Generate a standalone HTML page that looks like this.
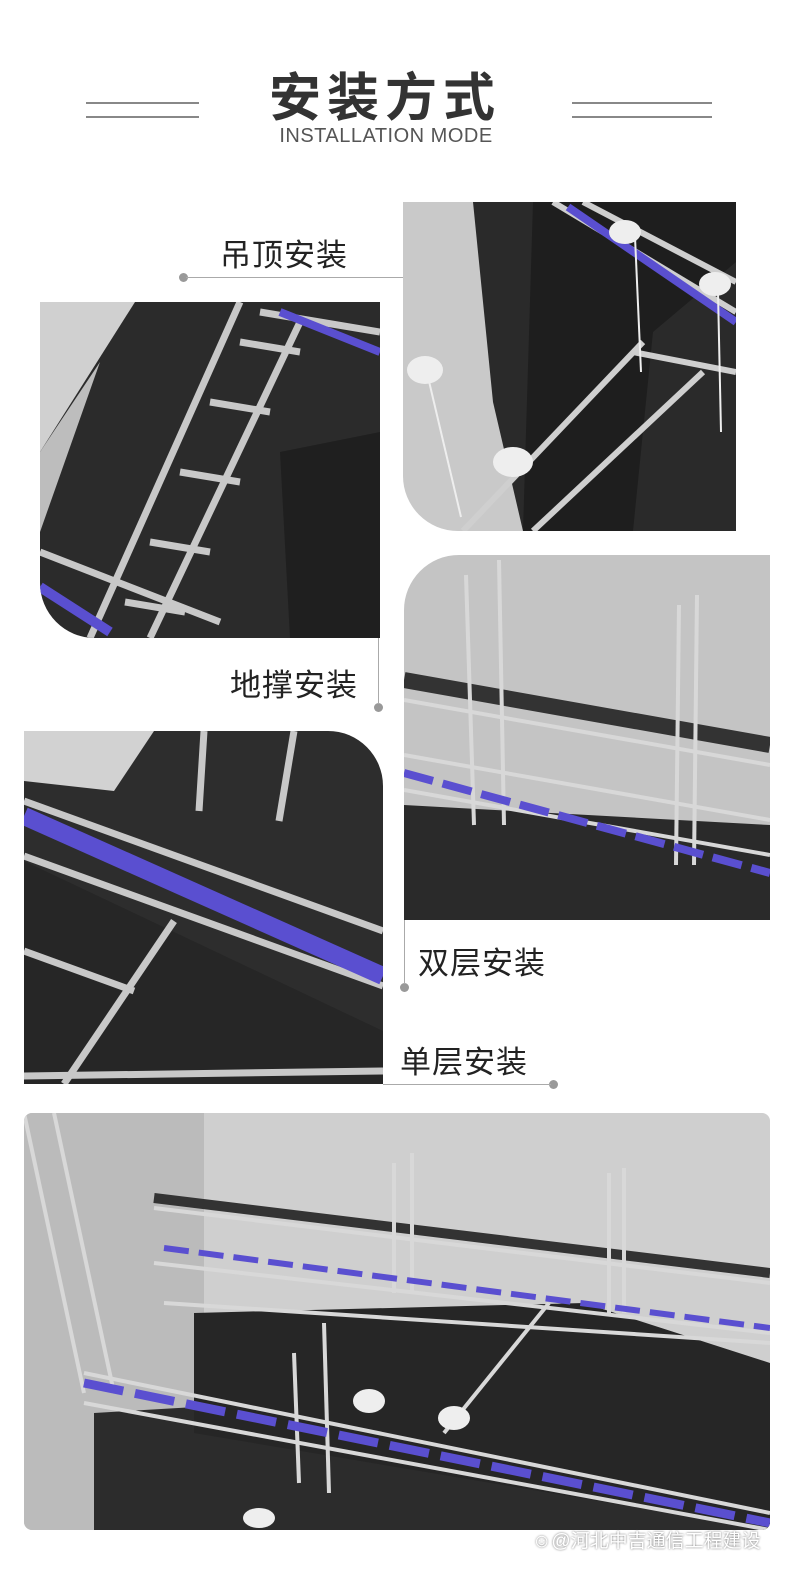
<!DOCTYPE html>
<html><head><meta charset="utf-8"><style>
body{margin:0;width:800px;height:1574px;background:#fff;position:relative;overflow:hidden;font-family:"Liberation Sans","Noto Sans CJK SC",sans-serif;}
.a{position:absolute}
.t{position:absolute;font-size:31px;color:#222;letter-spacing:1px;white-space:nowrap}
.dot{position:absolute;width:9px;height:9px;border-radius:50%;background:#999}
.ln{position:absolute;height:1px;background:#aaa}
.img{position:absolute;overflow:hidden}
svg{display:block}
</style></head><body>
<div class="a" style="left:0;width:770px;top:56px;text-align:center;font-size:52px;font-weight:bold;color:#333;letter-spacing:6px">安装方式</div>
<div class="a" style="left:0;width:772px;top:125px;text-align:center;font-size:20px;color:#555;letter-spacing:0.5px">INSTALLATION MODE</div>
<div class="a" style="left:86px;top:102px;width:113px;height:2px;background:#888"></div>
<div class="a" style="left:86px;top:116px;width:113px;height:2px;background:#888"></div>
<div class="a" style="left:572px;top:102px;width:140px;height:2px;background:#888"></div>
<div class="a" style="left:572px;top:116px;width:140px;height:2px;background:#888"></div>

<div class="t" style="left:220px;top:230px">吊顶安装</div>
<div class="dot" style="left:179px;top:273px"></div><div class="ln" style="left:186px;top:277px;width:217px"></div>
<div class="t" style="left:230px;top:660px">地撑安装</div>
<div class="dot" style="left:374px;top:703px"></div><div class="a" style="left:378px;top:638px;width:1px;height:66px;background:#aaa"></div>
<div class="t" style="left:418px;top:938px">双层安装</div>
<div class="dot" style="left:400px;top:983px"></div><div class="a" style="left:404px;top:920px;width:1px;height:64px;background:#aaa"></div>
<div class="t" style="left:400px;top:1037px">单层安装</div>
<div class="dot" style="left:549px;top:1080px"></div><div class="ln" style="left:383px;top:1084px;width:168px"></div>

<!-- image 1 -->
<div class="img" style="left:403px;top:202px;width:333px;height:329px;border-bottom-left-radius:55px;background:#c9c9c9">
<svg width="333" height="329"><polygon points="70,0 333,0 333,329 120,329 90,200" fill="#2a2a2a"/><polygon points="130,0 333,0 333,60 250,130 230,329 120,329" fill="#1e1e1e"/>
<g stroke="#cfcfcf" stroke-width="6" fill="none"><line x1="150" y1="0" x2="333" y2="110"/><line x1="180" y1="0" x2="333" y2="80"/><line x1="240" y1="140" x2="60" y2="329"/><line x1="300" y1="170" x2="130" y2="329"/><line x1="230" y1="150" x2="333" y2="170"/></g>
<line x1="165" y1="5" x2="333" y2="120" stroke="#5a4fd0" stroke-width="8"/>
<g fill="#eee"><ellipse cx="222" cy="30" rx="16" ry="12"/><ellipse cx="312" cy="82" rx="16" ry="12"/><ellipse cx="22" cy="168" rx="18" ry="14"/><ellipse cx="110" cy="260" rx="20" ry="15"/></g>
<g stroke="#eee" stroke-width="2"><line x1="232" y1="35" x2="238" y2="170"/><line x1="315" y1="90" x2="318" y2="230"/><line x1="25" y1="175" x2="58" y2="315"/></g></svg></div>

<!-- image 2 -->
<div class="img" style="left:40px;top:302px;width:340px;height:336px;border-bottom-left-radius:55px;background:#2b2b2b">
<svg width="340" height="336"><polygon points="0,0 95,0 0,150" fill="#d0d0d0"/><polygon points="0,150 60,60 0,230" fill="#bdbdbd"/><polygon points="240,150 340,130 340,336 250,336" fill="#1f1f1f"/>
<g stroke="#c8c8c8" stroke-width="7" fill="none"><line x1="200" y1="0" x2="50" y2="336"/><line x1="260" y1="20" x2="110" y2="336"/><line x1="200" y1="40" x2="260" y2="50"/><line x1="170" y1="100" x2="230" y2="110"/><line x1="140" y1="170" x2="200" y2="180"/><line x1="110" y1="240" x2="170" y2="250"/><line x1="85" y1="300" x2="145" y2="310"/><line x1="0" y1="250" x2="180" y2="320"/><line x1="220" y1="10" x2="340" y2="30"/></g>
<line x1="240" y1="10" x2="340" y2="50" stroke="#5a4fd0" stroke-width="8"/><line x1="0" y1="285" x2="70" y2="330" stroke="#5a4fd0" stroke-width="10"/></svg></div>

<!-- image 3 -->
<div class="img" style="left:24px;top:731px;width:359px;height:353px;border-top-right-radius:55px;background:#2d2d2d">
<svg width="359" height="353"><polygon points="0,0 130,0 90,60 0,50" fill="#d2d2d2"/><polygon points="0,130 359,300 359,353 0,353" fill="#262626"/>
<g stroke="#c8c8c8" stroke-width="7" fill="none"><line x1="0" y1="70" x2="359" y2="200"/><line x1="0" y1="125" x2="359" y2="255"/><line x1="180" y1="0" x2="175" y2="80"/><line x1="270" y1="0" x2="255" y2="90"/><line x1="150" y1="190" x2="40" y2="353"/><line x1="0" y1="220" x2="110" y2="260"/><line x1="0" y1="345" x2="359" y2="340"/></g>
<line x1="0" y1="85" x2="359" y2="245" stroke="#5a4fd0" stroke-width="18"/></svg></div>

<!-- image 4 -->
<div class="img" style="left:404px;top:555px;width:366px;height:365px;border-top-left-radius:55px;background:#c4c4c4">
<svg width="366" height="365"><polygon points="0,250 366,270 366,365 0,365" fill="#2a2a2a"/>
<line x1="0" y1="125" x2="366" y2="190" stroke="#333" stroke-width="16"/>
<g stroke="#d8d8d8" stroke-width="4"><line x1="0" y1="145" x2="366" y2="210"/><line x1="0" y1="200" x2="366" y2="265"/><line x1="0" y1="235" x2="366" y2="300"/><line x1="62" y1="20" x2="70" y2="270"/><line x1="95" y1="5" x2="100" y2="270"/><line x1="275" y1="50" x2="272" y2="310"/><line x1="293" y1="40" x2="290" y2="310"/></g>
<line x1="0" y1="218" x2="366" y2="318" stroke="#5a4fd0" stroke-width="8" stroke-dasharray="30,10"/></svg></div>

<!-- image 5 -->
<div class="img" style="left:24px;top:1113px;width:746px;height:417px;border-radius:8px;background:#cfcfcf">
<svg width="746" height="417"><polygon points="0,0 180,0 180,417 0,417" fill="#bbb"/><polygon points="70,300 746,260 746,417 70,417" fill="#2c2c2c"/><polygon points="170,200 560,190 746,250 746,417 170,320" fill="#262626"/>
<line x1="130" y1="85" x2="746" y2="160" stroke="#333" stroke-width="10"/>
<g stroke="#d8d8d8" stroke-width="4" fill="none"><line x1="130" y1="95" x2="746" y2="170"/><line x1="130" y1="150" x2="746" y2="220"/><line x1="140" y1="190" x2="746" y2="230"/><line x1="0" y1="0" x2="60" y2="280"/><line x1="30" y1="0" x2="90" y2="280"/><line x1="60" y1="260" x2="746" y2="400"/><line x1="60" y1="290" x2="746" y2="417"/><line x1="370" y1="50" x2="370" y2="180"/><line x1="388" y1="40" x2="388" y2="180"/><line x1="585" y1="60" x2="585" y2="200"/><line x1="600" y1="55" x2="600" y2="200"/><line x1="420" y1="320" x2="525" y2="190"/><line x1="270" y1="240" x2="275" y2="370"/><line x1="300" y1="210" x2="305" y2="380"/></g>
<line x1="140" y1="135" x2="746" y2="215" stroke="#5a4fd0" stroke-width="6" stroke-dasharray="25,10"/>
<line x1="60" y1="270" x2="746" y2="410" stroke="#5a4fd0" stroke-width="9" stroke-dasharray="40,12"/>
<g fill="#eee"><ellipse cx="345" cy="288" rx="16" ry="12"/><ellipse cx="430" cy="305" rx="16" ry="12"/><ellipse cx="235" cy="405" rx="16" ry="10"/></g></svg></div>
<div class="a" style="left:532px;top:1526px;font-size:19px;color:#fff;white-space:nowrap;text-shadow:0 0 2px #666">☺@河北中吉通信工程建设</div>
</body></html>
